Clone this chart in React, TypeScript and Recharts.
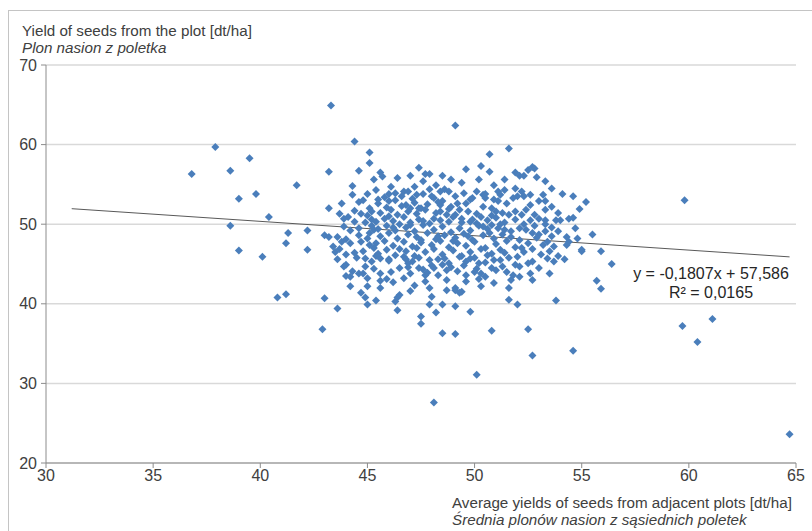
import { ScatterChart, Scatter, XAxis, YAxis, CartesianGrid, ReferenceLine } from "recharts"

type Pt = [number, number]

const xTicks = [30, 35, 40, 45, 50, 55, 60, 65]
const yTicks = [20, 30, 40, 50, 60, 70]

// trendline as printed on the chart
const slope = -0.1807
const intercept = 57.586
const trendFrom = 31.2
const trendTo = 64.7

// sparse points away from the main cloud
const outliers: Pt[] = [
  [36.8, 56.3], [37.9, 59.7], [38.6, 56.7], [39.5, 58.3], [39.0, 53.2], [39.8, 53.8], [38.6, 49.8],
  [39.0, 46.7], [40.1, 45.9], [40.4, 50.9], [41.7, 54.9], [40.8, 40.8], [41.2, 41.2], [41.3, 48.9],
  [41.2, 47.6], [42.2, 49.2], [42.2, 46.8], [43.3, 64.9], [44.4, 60.4], [49.1, 62.4], [51.6, 59.5],
  [50.7, 58.8], [43.0, 40.7], [43.6, 39.4], [42.9, 36.8], [47.5, 38.4], [47.5, 37.5], [48.1, 27.6],
  [50.1, 31.1], [48.5, 36.3], [49.1, 36.2], [50.8, 36.6], [52.5, 36.8], [52.7, 33.5], [54.6, 34.1],
  [59.8, 53.0], [59.7, 37.2], [60.4, 35.2], [61.1, 38.1], [64.7, 23.6], [55.7, 42.9], [55.9, 41.9],
  [56.4, 45.0], [53.8, 40.4], [52.0, 39.9], [51.6, 40.5], [49.8, 39.0], [48.2, 38.9],
]

// x roughly 42.5 - 45.6
const westPoints: Pt[] = [
  [43.2, 56.6], [44.6, 56.7], [45.1, 59.0], [45.1, 57.7], [45.6, 56.5], [45.7, 56.0], [45.3, 55.6],
  [44.3, 53.7], [44.6, 52.8], [45.0, 53.8], [44.8, 53.0], [43.2, 52.0], [44.4, 51.7], [45.1, 52.0],
  [45.2, 51.6], [43.7, 51.3], [43.9, 50.7], [44.1, 50.9], [43.0, 48.6], [43.2, 48.4], [43.6, 48.4],
  [43.8, 47.8], [44.0, 48.1], [44.2, 47.6], [44.7, 47.8], [45.0, 48.2], [45.1, 47.4], [45.3, 47.0],
  [43.5, 46.5], [44.4, 46.4], [43.9, 44.7], [44.0, 44.9], [44.2, 43.4], [44.2, 42.2], [44.6, 43.8],
  [44.8, 43.8], [44.9, 45.7], [44.9, 44.7], [45.0, 43.2], [45.0, 42.2], [44.7, 41.4], [44.9, 40.8],
  [45.0, 39.9], [45.4, 40.4], [45.6, 43.8], [45.6, 42.9], [45.6, 42.0], [45.6, 45.7], [46.0, 45.6],
  [43.9, 49.7], [44.2, 49.2], [44.6, 49.5], [44.9, 50.2], [45.2, 50.6], [44.4, 50.3], [43.7, 46.9],
  [44.0, 46.2], [44.5, 45.8], [44.8, 46.6], [45.2, 45.3], [45.3, 44.4], [43.6, 45.6], [44.0, 43.5],
  [45.1, 48.9], [44.6, 48.6], [45.3, 49.3], [45.0, 51.1], [44.3, 54.8], [45.4, 54.3], [45.5, 53.1],
  [43.4, 47.2], [44.3, 44.1], [45.4, 46.0], [45.2, 49.8], [44.7, 51.3], [43.8, 52.6],
]

// x roughly 45.6 - 50
const midPoints: Pt[] = [
  [46.4, 55.8], [47.0, 56.1], [47.4, 57.1], [47.7, 56.3], [47.6, 55.4], [46.1, 54.7], [46.0, 53.8],
  [46.7, 54.1], [46.9, 54.1], [47.2, 54.7], [47.3, 53.7], [46.3, 53.0], [46.8, 52.4], [47.0, 52.0],
  [47.4, 52.0], [46.5, 44.5], [47.0, 43.8], [46.3, 40.3], [46.4, 40.8], [46.5, 41.1], [46.4, 39.2],
  [47.7, 43.6], [47.7, 42.8], [46.7, 45.9], [46.8, 45.6], [47.1, 45.3], [47.9, 56.3], [48.5, 56.1],
  [49.6, 56.9], [49.4, 55.2], [48.2, 54.9], [48.6, 54.4], [48.8, 54.1], [48.4, 54.1], [48.1, 53.3],
  [48.3, 52.8], [48.4, 52.4], [49.1, 53.5], [49.2, 52.6], [49.3, 51.8], [48.4, 51.6], [48.7, 51.2],
  [48.1, 50.7], [48.8, 50.3], [49.4, 50.7], [49.8, 50.3], [47.9, 39.9], [48.5, 39.9], [49.1, 39.7],
  [47.9, 42.0], [48.0, 40.9], [48.7, 41.7], [49.1, 41.7], [49.4, 41.5], [49.6, 43.6], [49.6, 42.8],
  [49.8, 45.7], [47.9, 45.5], [48.1, 44.5], [48.3, 43.6], [48.5, 44.9], [48.7, 44.2], [48.7, 43.0],
  [49.1, 42.0], [49.3, 41.4], [46.1, 44.0], [46.7, 43.2], [47.2, 42.3], [46.2, 42.7], [47.0, 41.6],
  [47.4, 44.5], [45.9, 43.1], [46.9, 44.6],
  [45.8, 53.4], [46.3, 53.9], [47.1, 53.2], [47.6, 53.8], [48.0, 53.5], [49.5, 53.9], [49.8, 53.1],
  [45.5, 52.6], [46.0, 52.9], [46.6, 52.3], [47.2, 52.7], [47.8, 52.5], [48.5, 52.9], [48.9, 52.2],
  [49.6, 52.6], [45.9, 52.1], [47.5, 52.0], [45.6, 51.4], [46.1, 51.8], [46.4, 51.2], [46.9, 51.6],
  [47.3, 51.3], [47.7, 51.8], [48.2, 51.4], [48.8, 51.9], [49.1, 51.2], [49.7, 51.6], [50.1, 51.3],
  [45.4, 50.3], [45.8, 50.7], [46.2, 50.4], [46.7, 50.9], [47.0, 50.2], [47.4, 50.6], [47.9, 50.1],
  [48.4, 50.5], [49.0, 50.9], [49.4, 50.2], [49.9, 50.6], [50.3, 50.9], [46.5, 50.0], [45.5, 49.4],
  [45.9, 49.8], [46.3, 49.2], [46.8, 49.6], [47.2, 49.1], [47.6, 49.9], [48.1, 49.3], [48.5, 49.7],
  [48.9, 49.0], [49.3, 49.5], [49.8, 49.2], [50.2, 49.8], [50.6, 49.4], [47.0, 49.9], [45.6, 48.5],
  [46.0, 48.9], [46.4, 48.2], [46.9, 48.7], [47.3, 48.4], [47.8, 48.9], [48.2, 48.1], [48.6, 48.6],
  [49.1, 48.3], [49.5, 48.8], [49.9, 48.0], [50.4, 48.6], [50.9, 48.2], [51.3, 48.7], [47.5, 48.0],
  [45.4, 47.6], [45.8, 47.9], [46.2, 47.3], [46.7, 47.8], [47.1, 47.2], [47.5, 47.7], [48.0, 47.4],
  [48.4, 47.9], [48.8, 47.1], [49.2, 47.6], [49.6, 47.3], [50.0, 47.8], [50.5, 47.0], [51.0, 47.5],
  [51.5, 47.9], [45.5, 46.3], [45.9, 46.8], [46.3, 46.1], [46.8, 46.6], [47.2, 46.0], [47.7, 46.5],
  [48.1, 46.9], [48.5, 46.2], [49.0, 46.7], [49.4, 46.0], [49.8, 46.5], [50.3, 46.9], [50.8, 46.3],
  [51.2, 46.8], [46.0, 45.4], [46.9, 45.1], [47.4, 45.8], [48.3, 45.6], [48.8, 45.1], [49.3, 45.9],
  [49.6, 45.3], [50.0, 45.8], [50.5, 45.2], [47.6, 44.3], [48.0, 44.8], [48.9, 44.6], [49.2, 44.1],
  [49.5, 44.8], [50.1, 44.4],
  [46.6, 53.5], [47.9, 54.4], [48.9, 55.6], [46.2, 49.6], [47.6, 50.4], [48.3, 48.5], [49.0, 47.9],
  [46.5, 46.9], [47.3, 47.0], [48.6, 45.7], [47.8, 43.9], [46.0, 51.0], [49.7, 48.5],
]

// x roughly 50 - 56
const eastPoints: Pt[] = [
  [50.3, 57.3], [50.7, 56.6], [51.9, 56.5], [52.1, 56.1], [52.3, 56.1], [52.5, 56.8], [52.7, 57.2],
  [52.8, 57.0], [50.2, 55.6], [53.3, 55.4], [53.6, 54.5], [53.2, 53.7], [53.3, 52.9], [53.0, 52.9],
  [54.1, 53.8], [54.6, 53.5], [55.2, 52.8], [50.9, 54.9], [51.1, 54.1], [51.4, 54.3], [51.2, 53.7],
  [50.1, 54.1], [50.4, 53.7], [50.5, 53.3], [49.9, 53.3], [51.9, 54.5], [52.2, 54.1], [52.0, 53.5],
  [52.3, 53.5], [52.6, 53.7], [50.4, 52.2], [50.8, 52.0], [51.0, 51.6], [51.3, 51.4], [51.6, 51.2],
  [51.9, 51.6], [52.2, 51.2], [52.6, 50.5], [52.8, 51.2], [53.0, 50.7], [53.3, 50.5], [53.8, 50.5],
  [54.0, 50.5], [54.4, 50.7], [54.6, 50.8], [53.3, 51.8], [53.6, 52.2], [50.1, 50.1], [50.4, 49.7],
  [50.8, 49.9], [51.1, 49.5], [51.4, 49.3], [51.7, 49.1], [52.1, 49.5], [52.4, 49.3], [52.7, 48.9],
  [53.0, 48.7], [53.3, 49.1], [53.9, 49.1], [54.3, 48.4], [54.7, 49.5], [55.5, 48.7], [53.4, 47.8],
  [53.7, 47.2], [54.4, 47.8], [54.8, 48.2], [55.0, 46.8], [54.3, 47.4], [55.0, 46.6], [55.9, 46.6],
  [50.3, 42.2], [50.9, 42.6], [50.2, 43.1], [50.5, 43.4], [50.0, 44.0], [50.2, 45.1], [51.6, 42.0],
  [51.7, 43.0], [51.8, 43.6], [52.1, 43.4], [51.5, 44.0], [51.9, 44.9], [52.1, 44.7], [51.2, 45.5],
  [51.3, 44.7], [52.6, 43.8], [52.7, 43.0], [52.5, 45.1], [52.7, 45.3], [53.5, 43.8], [53.4, 45.7],
  [53.7, 45.3], [50.8, 44.5], [50.9, 45.5], [50.6, 46.1],
  [50.5, 53.8], [50.9, 53.1], [51.5, 52.6], [51.8, 53.3], [52.6, 52.4], [51.1, 52.9], [50.6, 50.5],
  [51.0, 50.8], [51.4, 50.2], [51.9, 50.6], [52.3, 50.0], [52.8, 49.8], [53.3, 50.0], [53.6, 49.6],
  [50.8, 51.1], [51.7, 48.4], [52.1, 48.0], [52.5, 47.6], [52.9, 48.3], [53.2, 47.4], [51.9, 47.1],
  [52.3, 46.5], [52.7, 46.9], [53.1, 46.2], [53.5, 46.6], [53.9, 46.0], [51.6, 45.8], [52.0, 45.9],
  [54.2, 45.6], [53.0, 44.5], [51.0, 44.2], [50.3, 43.8],
  [51.4, 55.6], [52.9, 55.9], [53.9, 51.4], [54.9, 51.9], [51.2, 50.0], [52.4, 51.8], [50.7, 48.9],
  [52.2, 47.0], [53.6, 48.5], [51.4, 46.4],
]

const scatterData = [...outliers, ...westPoints, ...midPoints, ...eastPoints].map(([x, y]) => ({ x, y }))

const Diamond = (props: any) => {
  const { cx, cy } = props
  if (cx == null || cy == null) return null
  const r = 4
  return <path d={`M${cx} ${cy - r}L${cx + r} ${cy}L${cx} ${cy + r}L${cx - r} ${cy}Z`} fill="#4a7ebb" />
}

const font = "'Liberation Sans', Arial, sans-serif"

export default function App() {
  return (
    <div style={{ position: "absolute", left: 0, top: 0, width: 812, height: 531, background: "#fff", fontFamily: font, color: "#404040" }}>
      <div style={{ position: "absolute", left: 8, top: 10, width: 804, height: 521, borderLeft: "1px solid #c4c4c4", borderTop: "1px solid #c4c4c4", boxSizing: "border-box" }} />
      <ScatterChart width={812} height={531} margin={{ top: 65, right: 16, bottom: 0, left: 0 }}>
        <CartesianGrid vertical={false} stroke="#d9d9d9" strokeWidth={1.5} />
        <XAxis
          type="number"
          dataKey="x"
          domain={[30, 65]}
          ticks={xTicks}
          height={68}
          axisLine={{ stroke: "#8c8c8c" }}
          tickLine={{ stroke: "#8c8c8c" }}
          tickSize={5}
          tickMargin={2}
          tick={{ fill: "#404040", fontSize: 16, fontFamily: font }}
        />
        <YAxis
          type="number"
          dataKey="y"
          domain={[20, 70]}
          ticks={yTicks}
          width={46}
          axisLine={{ stroke: "#8c8c8c" }}
          tickLine={{ stroke: "#8c8c8c" }}
          tickSize={5}
          tickMargin={4}
          tick={{ fill: "#404040", fontSize: 16, fontFamily: font }}
        />
        <ReferenceLine
          segment={[
            { x: trendFrom, y: slope * trendFrom + intercept },
            { x: trendTo, y: slope * trendTo + intercept },
          ]}
          stroke="#595959"
          strokeWidth={1}
          ifOverflow="visible"
        />
        <Scatter data={scatterData} shape={Diamond} isAnimationActive={false} />
      </ScatterChart>
      <div style={{ position: "absolute", left: 22, top: 22, fontSize: 15.2, lineHeight: "17px", whiteSpace: "nowrap" }}>
        <div>Yield of seeds from the plot [dt/ha]</div>
        <div style={{ fontStyle: "italic" }}>Plon nasion z poletka</div>
      </div>
      <div style={{ position: "absolute", left: 452, top: 494, fontSize: 15.2, lineHeight: "17px", whiteSpace: "nowrap" }}>
        <div>Average yields of seeds from adjacent plots [dt/ha]</div>
        <div style={{ fontStyle: "italic" }}>Średnia plonów nasion z sąsiednich poletek</div>
      </div>
      <div style={{ position: "absolute", left: 616, top: 264, width: 190, textAlign: "center", fontSize: 16, lineHeight: "19px", color: "#262626", whiteSpace: "nowrap" }}>
        <div>y = -0,1807x + 57,586</div>
        <div>R² = 0,0165</div>
      </div>
    </div>
  )
}
